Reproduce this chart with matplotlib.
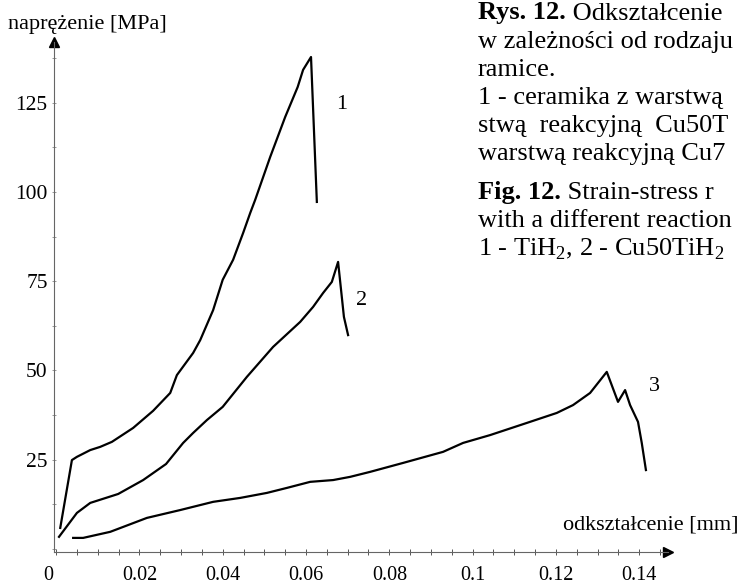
import matplotlib
matplotlib.use("Agg")
import matplotlib.pyplot as plt
import matplotlib.transforms as mtransforms
from matplotlib.ticker import MultipleLocator, FixedLocator, FixedFormatter

plt.rcParams['font.family'] = ['Liberation Serif', 'DejaVu Serif']
plt.rcParams['mathtext.fontset'] = 'custom'
plt.rcParams['mathtext.rm'] = 'Liberation Serif'

# curve data (strain in mm, stress in MPa)
strain_1 = [0.0010, 0.0038, 0.0050, 0.0082, 0.0106, 0.0134, 0.0185, 0.0233, 0.0274, 0.0290,
            0.0329, 0.0346, 0.0377, 0.0400, 0.0425, 0.0449, 0.0466, 0.0478, 0.0514, 0.0550,
            0.0580, 0.0593, 0.0612, 0.0626]
stress_1 = [5.9, 24.9, 25.8, 27.7, 28.6, 30.0, 33.9, 38.7, 43.7, 48.7,
            54.9, 58.5, 66.9, 75.4, 81.0, 88.5, 94.1, 97.8, 109.8, 121.0,
            129.4, 134.2, 137.8, 97.2]

strain_2 = [0.0007, 0.0050, 0.0082, 0.0149, 0.0209, 0.0264, 0.0305, 0.0329, 0.0362, 0.0400,
            0.0458, 0.0521, 0.0586, 0.0617, 0.0641, 0.0662, 0.0677, 0.0691, 0.0701]
stress_2 = [3.4, 10.1, 12.9, 15.4, 19.3, 23.8, 29.7, 32.5, 36.1, 39.8,
            48.2, 56.6, 63.6, 67.8, 71.7, 74.8, 80.4, 65.0, 59.9]

strain_3 = [0.0041, 0.0065, 0.0130, 0.0218, 0.0298, 0.0377, 0.0442, 0.0506, 0.0554, 0.0610,
            0.0665, 0.0706, 0.0754, 0.0833, 0.0929, 0.0977, 0.1042, 0.1130, 0.1202, 0.1241,
            0.1282, 0.1322, 0.1349, 0.1366, 0.1378, 0.1397, 0.1406, 0.1416]
stress_3 = [3.1, 3.1, 4.8, 8.7, 10.9, 13.2, 14.3, 15.7, 17.1, 18.8,
            19.3, 20.2, 21.6, 24.1, 27.2, 29.7, 31.9, 35.3, 38.1, 40.3,
            43.7, 49.6, 41.2, 44.5, 40.3, 35.6, 29.7, 22.1]

curve_names = ["1", "2", "3"]
name_pos = [(0.0686, 124.4), (0.0734, 69.7), (0.1437, 45.4)]

x_ticks = [0, 0.02, 0.04, 0.06, 0.08, 0.10, 0.12, 0.14]
x_labels = ["0", "0.02", "0.04", "0.06", "0.08", "0.1", "0.12", "0.14"]
y_ticks = [25, 50, 75, 100, 125]

caption = [
    ("Rys. 12.", " Odkształcenie"),
    ("", "w zależności od rodzaju"),
    ("", "ramice."),
    ("", "1 - ceramika z warstwą"),
    ("", "stwą  reakcyjną  Cu50T"),
    ("", "warstwą reakcyjną Cu7"),
    ("Fig. 12.", " Strain-stress r"),
    ("", "with a different reaction"),
    ("", "1 - TiH$_2$, 2 - Cu50TiH$_2$"),
]
caption_y = [13, 42, 70, 98, 126, 154, 193, 221, 249]

W, H = 738, 585
fig = plt.figure(figsize=(W / 100, H / 100), dpi=100)
ax = fig.add_axes([54 / W, 1 - 552 / H, 614 / W, 510 / H])

for xs, ys in [(strain_1, stress_1), (strain_2, stress_2), (strain_3, stress_3)]:
    ax.plot(xs, ys, color="black", lw=1.6, solid_joinstyle="round")

for name, (nx, ny) in zip(curve_names, name_pos):
    ax.text(nx, ny, name, fontsize=16, ha="center", va="center")

ax.set_xlim(-0.0005, 0.1469)
ax.set_ylim(-0.85, 142)

for s in ["top", "right"]:
    ax.spines[s].set_visible(False)
for s in ["left", "bottom"]:
    ax.spines[s].set_color("#666666")
    ax.spines[s].set_linewidth(0.8)

ax.xaxis.set_major_locator(FixedLocator(x_ticks))
ax.xaxis.set_major_formatter(FixedFormatter(x_labels))
ax.xaxis.set_minor_locator(MultipleLocator(0.005))
ax.yaxis.set_major_locator(FixedLocator(y_ticks))
ax.yaxis.set_minor_locator(MultipleLocator(12.5))
ax.tick_params(axis="x", which="both", direction="inout", length=4, width=0.7,
               color="#555555", pad=8, labelsize=14.5)
ax.tick_params(axis="y", which="both", direction="inout", length=3, width=0.6,
               color="#888888", pad=3, labelsize=15.5)

# the "0" label sits a bit left of the axis in the scan
zero_lbl = ax.get_xticklabels()[0]
zero_lbl.set_transform(zero_lbl.get_transform() +
                       mtransforms.ScaledTranslation(-0.08, 0, fig.dpi_scale_trans))

# axis arrows
ax.plot(0, 1, marker="^", color="black", markersize=7, transform=ax.transAxes, clip_on=False)
ax.plot(1, 0, marker=">", color="black", markersize=7, transform=ax.transAxes, clip_on=False)

fig.text(8 / W, 1 - 24 / H, "naprężenie [MPa]", fontsize=16, ha="left", va="center")
fig.text(563 / W, 1 - 525 / H, "odkształcenie [mm]", fontsize=16, ha="left", va="center")

x0 = 478 / W
for (bold, rest), yy in zip(caption, caption_y):
    if bold:
        t = fig.text(x0, 1 - yy / H, bold, fontsize=19, fontweight="bold", ha="left", va="center")
        ax.annotate(rest, xy=(1, 0), xycoords=t, fontsize=19, ha="left", va="bottom",
                    annotation_clip=False)
    else:
        fig.text(x0, 1 - yy / H, rest, fontsize=19, ha="left", va="center")

fig.savefig("out.png", dpi=100)
